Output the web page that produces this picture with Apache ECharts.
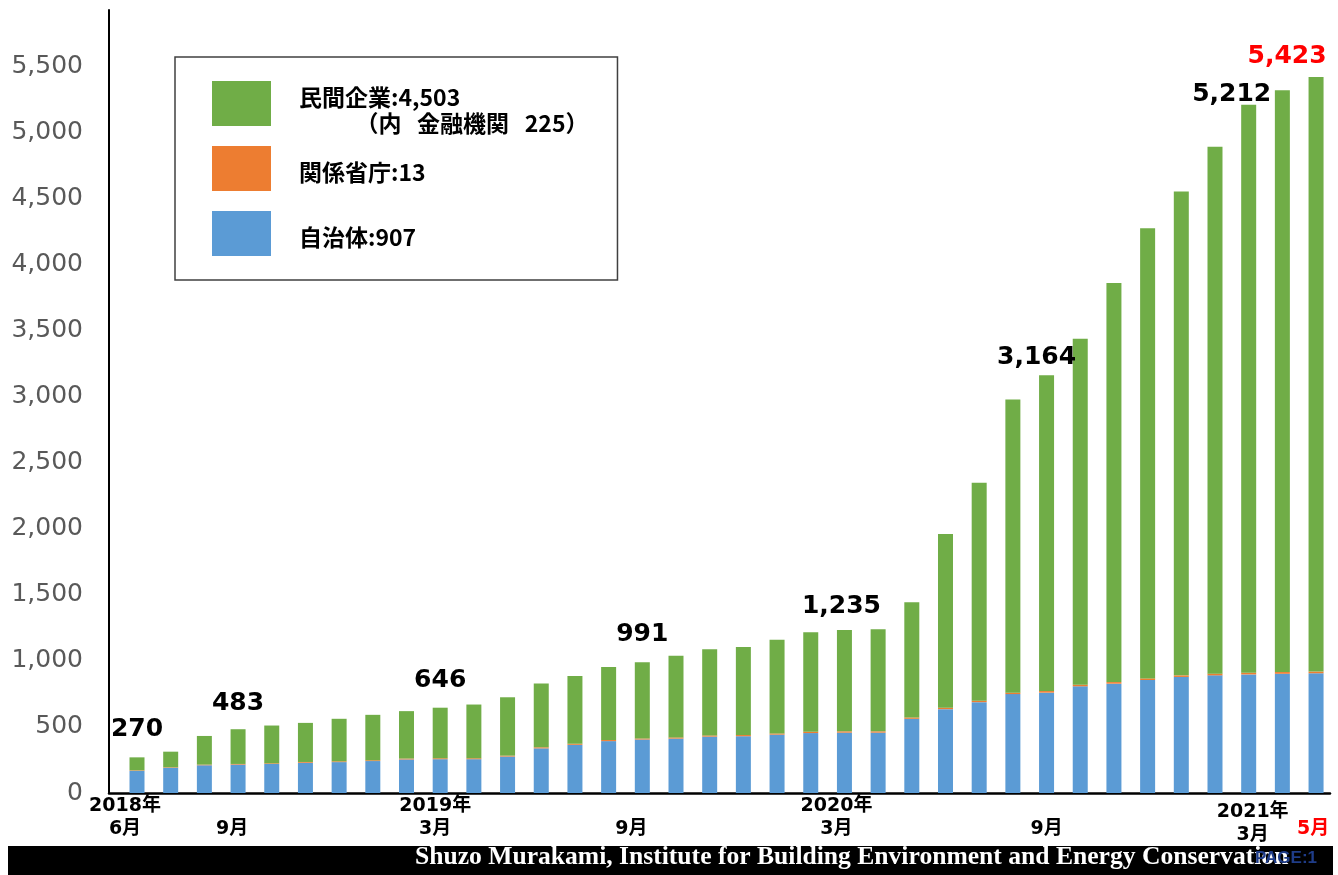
<!DOCTYPE html>
<html>
<head>
<meta charset="utf-8">
<script src="https://cdn.jsdelivr.net/npm/echarts@6/dist/echarts.min.js"></script>
<style>
  html, body { margin: 0; padding: 0; background: #ffffff; }
  #chart { width: 1338px; height: 875px; }
</style>
</head>
<body>
<div id="chart"></div>
<script>
// Monthly categories, June 2018 – May 2021
const categories = [
  '2018-06', '2018-07', '2018-08', '2018-09', '2018-10', '2018-11', '2018-12',
  '2019-01', '2019-02', '2019-03', '2019-04', '2019-05', '2019-06', '2019-07',
  '2019-08', '2019-09', '2019-10', '2019-11', '2019-12', '2020-01', '2020-02',
  '2020-03', '2020-04', '2020-05', '2020-06', '2020-07', '2020-08', '2020-09',
  '2020-10', '2020-11', '2020-12', '2021-01', '2021-02', '2021-03', '2021-04',
  '2021-05'
];

// Tick labels shown under the x axis ('' = no label)
const tickLabels = [
  '2018年\n6月', '', '', '\n9月', '', '', '',
  '', '', '2019年\n3月', '', '', '', '',
  '', '\n9月', '', '', '', '', '',
  '2020年\n3月', '', '', '', '', '', '\n9月',
  '', '', '', '', '', '2021年\n3月', '',
  '\n5月'
];

// 自治体 (local governments)
const localGov = [
  168, 191, 210, 215, 220, 229, 234, 242, 254, 256, 256, 276,
  338, 365, 393, 405, 412, 427, 430, 442, 454, 457, 457, 562,
  635, 688, 749, 760, 808, 828, 856, 879, 891, 898, 903, 907
];

// 関係省庁 (ministries)
const ministries = [
  4, 4, 5, 5, 5, 6, 6, 6, 7, 7, 7, 7,
  8, 8, 8, 8, 9, 9, 9, 9, 10, 10, 10, 10,
  11, 11, 11, 12, 12, 12, 12, 12, 13, 13, 13, 13
];

// 民間企業 (private companies)
const companies = [
  98, 118, 217, 263, 286, 296, 322, 344, 359, 383, 407, 442,
  484, 513, 553, 578, 619, 652, 667, 710, 753, 768, 773, 873,
  1316, 1651, 2220, 2392, 2620, 3022, 3410, 3664, 3990, 4301, 4406, 4503
];

// 民間企業のうち金融機関
const financeCount = 225;

// Months whose total is printed above the bar
const labeledMonths = [0, 3, 9, 15, 21, 27, 33, 35];
const latestMonth = 35;

const fmt = v => v.toLocaleString('en-US');
const totalAt = i => localGov[i] + ministries[i] + companies[i];
const last = arr => arr[arr.length - 1];

// Placement tweaks for the total labels [dx, dy]
const totalLabelOffset = {
  0: [0, -15], 3: [0, -13], 9: [0, -14], 15: [0, -15],
  21: [-3, -10], 27: [-10, -5], 33: [-17, 3], 35: [-29, -7]
};

// Per-tick text tweaks (padding shifts the text box)
const tickStyle = {
  0: { padding: [0, 24, 0, 0] },
  3: { padding: [0, 12, 0, 0] },
  9: { padding: [0, 10, 0, 0] },
  15: { padding: [0, 22, 0, 0] },
  21: { padding: [0, 16, 0, 0] },
  33: { padding: [6, 0, 0, 8] },
  35: { padding: [0, 6, 0, 0], color: '#FF0000' }
};

const xData = categories.map((c, i) =>
  tickStyle[i] ? { value: c, textStyle: tickStyle[i] } : c);

const companyData = companies.map((v, i) => {
  if (labeledMonths.indexOf(i) < 0) return v;
  return {
    value: v,
    label: {
      show: true,
      offset: totalLabelOffset[i],
      color: i === latestMonth ? '#FF0000' : '#000000'
    }
  };
});

const Y_MAX = 5930;
const GRID_TOP = 10;
const GRID_BOTTOM = 82;

// Legend entries (rich text so each block can be padded inside its row)
const legendText = {
  '民間企業': '{t|民間企業:' + fmt(last(companies)) + '}\n{t|　　  （内   金融機関   ' + financeCount + '）}',
  '関係省庁': '{t|関係省庁:' + fmt(last(ministries)) + '}',
  '自治体': '{t|自治体:' + fmt(last(localGov)) + '}'
};

const legendFont = {
  fontFamily: '"Noto Sans CJK JP"',
  fontWeight: 'bold',
  fontSize: 23,
  lineHeight: 26,
  color: '#000000'
};

const chart = echarts.init(document.getElementById('chart'), null, { renderer: 'canvas' });

chart.setOption({
  animation: false,
  backgroundColor: '#ffffff',
  grid: [
    // bars
    { left: 120.16, right: 5.1, top: GRID_TOP, bottom: GRID_BOTTOM, containLabel: false, outerBoundsMode: 'none' },
    // axis frame + value labels
    { left: 109, right: 8, top: GRID_TOP, bottom: GRID_BOTTOM, containLabel: false, outerBoundsMode: 'none' }
  ],
  xAxis: [
    {
      type: 'category',
      gridIndex: 0,
      data: xData,
      boundaryGap: true,
      axisLine: { show: false },
      axisTick: { show: false },
      splitLine: { show: false },
      axisLabel: {
        interval: 0,
        margin: 2,
        color: '#000000',
        fontFamily: '"DejaVu Sans", "Noto Sans CJK JP"',
        fontWeight: 'bold',
        fontSize: 19,
        lineHeight: 23,
        formatter: (v, i) => tickLabels[i]
      }
    },
    {
      type: 'value',
      gridIndex: 1,
      min: 0,
      max: 1,
      axisLine: { show: true, lineStyle: { color: '#000000', width: 2.5 } },
      axisTick: { show: false },
      axisLabel: { show: false },
      splitLine: { show: false }
    }
  ],
  yAxis: [
    {
      type: 'value',
      gridIndex: 0,
      min: 0,
      max: Y_MAX,
      show: false,
      splitLine: { show: false }
    },
    {
      type: 'value',
      gridIndex: 1,
      min: 0,
      max: Y_MAX,
      interval: 500,
      axisLine: { show: true, lineStyle: { color: '#000000', width: 2 } },
      axisTick: { show: false },
      splitLine: { show: false },
      axisLabel: {
        showMaxLabel: false,
        margin: 26,
        color: '#595959',
        fontFamily: '"DejaVu Sans"',
        fontSize: 25,
        formatter: v => fmt(v)
      }
    }
  ],
  legend: {
    orient: 'vertical',
    left: 175,
    top: 57,
    padding: [14, 29, 14, 37],
    itemWidth: 59,
    itemHeight: 45,
    itemGap: 0,
    icon: 'rect',
    selectedMode: false,
    backgroundColor: '#ffffff',
    borderColor: '#404040',
    borderWidth: 1.5,
    textStyle: Object.assign({ rich: { t: legendFont } }, legendFont),
    data: [
      { name: '民間企業', textStyle: { padding: [13, 0, 0, 23] } },
      { name: '関係省庁', textStyle: { padding: [23, 0, 16, 23] } },
      { name: '自治体', textStyle: { padding: [23, 0, 16, 23] } }
    ],
    formatter: name => legendText[name]
  },
  series: [
    {
      name: '自治体',
      type: 'bar',
      stack: 'total',
      xAxisIndex: 0,
      yAxisIndex: 0,
      barWidth: 15,
      itemStyle: { color: '#5B9BD5' },
      data: localGov
    },
    {
      name: '関係省庁',
      type: 'bar',
      stack: 'total',
      xAxisIndex: 0,
      yAxisIndex: 0,
      barWidth: 15,
      itemStyle: { color: '#ED7D31' },
      data: ministries
    },
    {
      name: '民間企業',
      type: 'bar',
      stack: 'total',
      xAxisIndex: 0,
      yAxisIndex: 0,
      barWidth: 15,
      itemStyle: { color: '#70AD47' },
      label: {
        show: false,
        position: 'top',
        distance: 0,
        fontFamily: '"DejaVu Sans"',
        fontWeight: 'bold',
        fontSize: 25,
        lineHeight: 26,
        formatter: p => fmt(totalAt(p.dataIndex))
      },
      z: 3,
      data: companyData
    }
  ],
  graphic: [
    {
      type: 'rect',
      silent: true,
      shape: { x: 8, y: 846, width: 1325, height: 29 },
      style: { fill: '#000000' }
    },
    {
      type: 'text',
      silent: true,
      x: 415,
      y: 857.5,
      style: {
        text: 'Shuzo Murakami, Institute for Building Environment and Energy Conservation',
        fill: '#ffffff',
        font: 'bold 25.6px "Liberation Serif"',
        align: 'left',
        verticalAlign: 'middle'
      }
    },
    {
      type: 'text',
      silent: true,
      x: 1255,
      y: 858,
      style: {
        text: 'PAGE:1',
        fill: '#1F3C88',
        font: 'bold 17px "Liberation Sans"',
        align: 'left',
        verticalAlign: 'middle'
      }
    }
  ]
});
</script>
</body>
</html>
